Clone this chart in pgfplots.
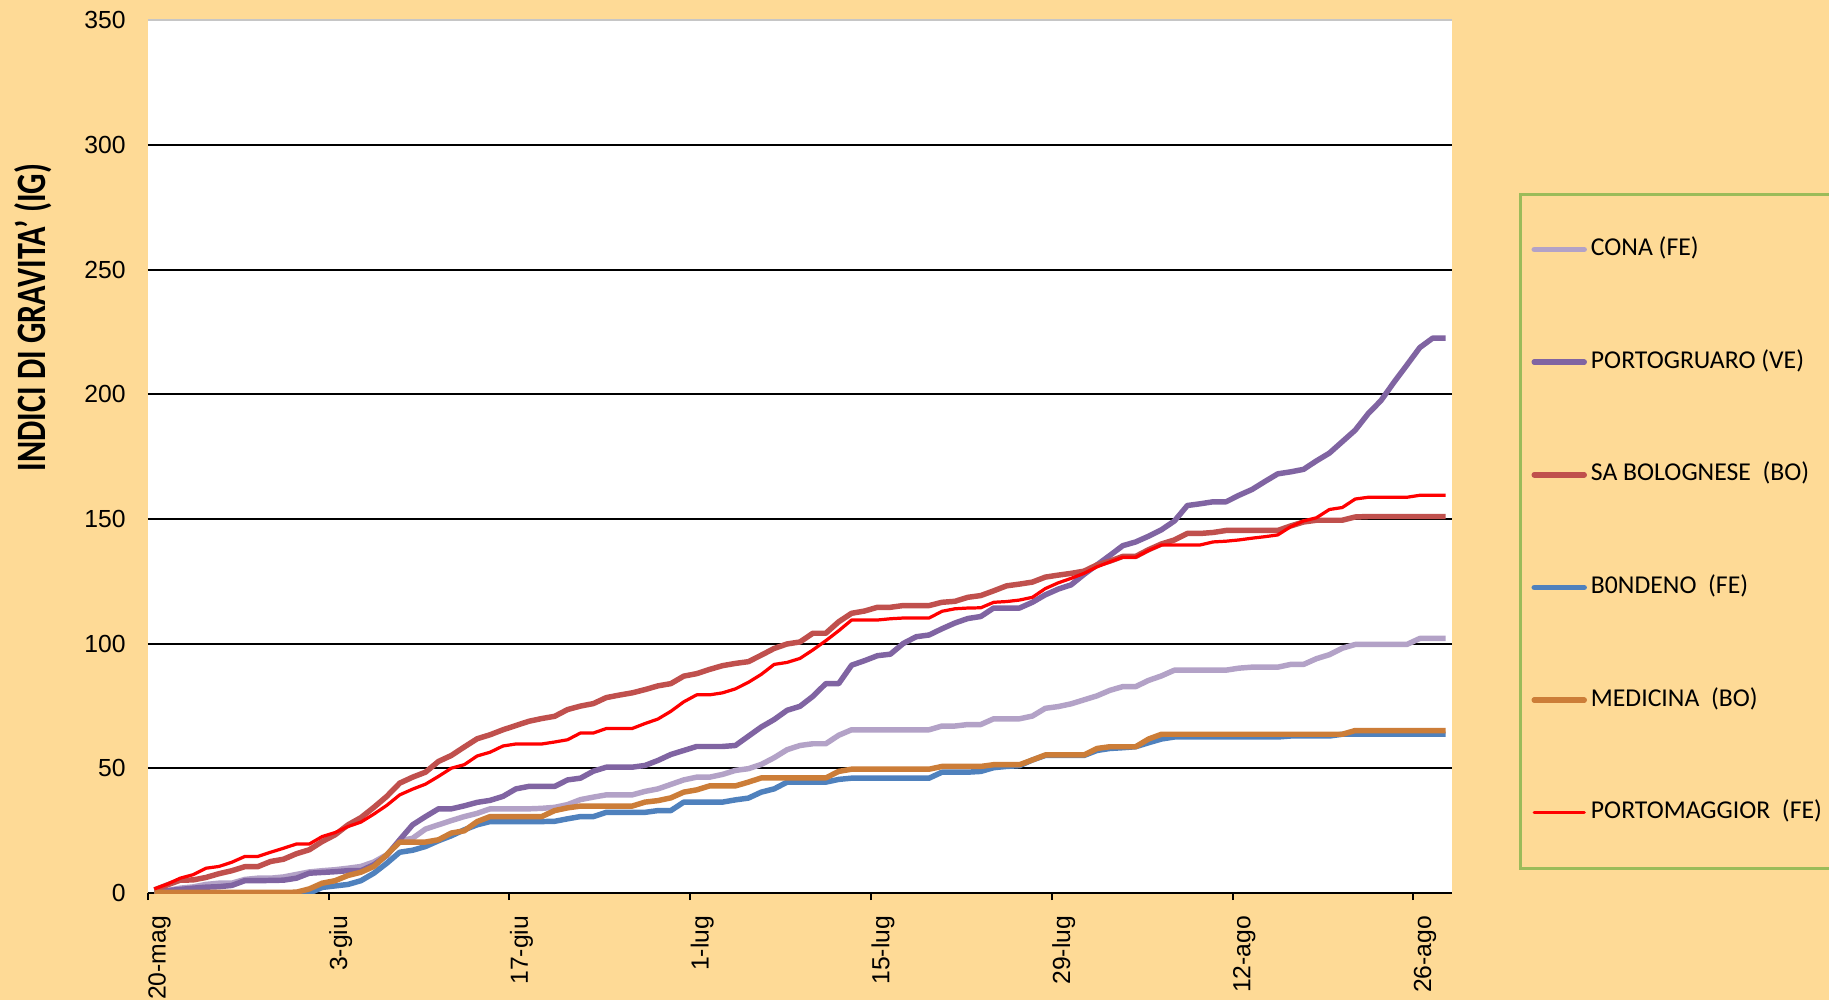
\documentclass[border=0pt]{standalone}
\usepackage{fontspec}
\setmainfont{Liberation Sans}
\newfontfamily\calibri{Carlito}
\usepackage{pgfplots}
\pgfplotsset{compat=1.18}
\usepackage{pgfplotstable}

\definecolor{bgorange}{RGB}{254,218,150}
\definecolor{legendgreen}{RGB}{155,187,89}
\definecolor{cona}{RGB}{179,162,199}
\definecolor{portog}{RGB}{128,100,162}
\definecolor{sabol}{RGB}{192,80,77}
\definecolor{bonden}{RGB}{79,129,189}
\definecolor{medic}{RGB}{204,125,56}
\definecolor{portom}{RGB}{255,0,0}

% giorni dal 20-mag; indici di gravita' cumulati
\pgfplotstableread{
d cona portog sabol bonden medic portom
0 0.5 0.4 1.3 0 0.3 1.7
1 1 1 3.3 0 0.3 3.6
2 2 1.5 5.2 0 0.3 6
3 2.5 2 5.3 0 0.3 7.4
4 3.5 2.4 6.3 0 0.3 10
5 4 2.6 7.8 0 0.3 10.7
6 4 3.1 9 0 0.3 12.4
7 5.5 5 10.6 0 0.3 14.7
8 6 5 10.6 0 0.3 14.7
9 6 5.1 12.7 0 0.3 16.4
10 6.5 5.2 13.6 0 0.3 18
11 7.5 6 15.8 0 0.4 19.7
12 8.5 8 17.4 0 1.7 19.7
13 9 8.3 20.7 2.3 4 22.7
14 9.4 8.6 23.4 2.9 5 24.3
15 10 9 27.4 3.5 7.1 26.7
16 10.7 9 30.3 5 8.4 28.5
17 12.5 11.4 34.4 8 10.7 31.7
18 15.4 15.1 38.8 12 15.4 35.2
19 21 21.4 44.1 16.4 20.5 39.4
20 22 27.4 46.5 17.2 20.5 41.7
21 25.7 30.7 48.5 18.7 20.5 43.7
22 27.4 33.8 52.8 21 21.4 46.8
23 29.1 33.8 55.2 23 24.1 50.1
24 30.7 35 58.6 25.4 25 51.5
25 32 36.4 61.9 27.4 28.7 55
26 33.8 37.2 63.5 28.7 30.7 56.5
27 33.8 38.8 65.5 28.7 30.7 59
28 33.8 41.8 67.2 28.7 30.7 59.8
29 33.8 42.8 68.9 28.7 30.7 59.8
30 34 42.8 70 28.7 30.7 59.8
31 34.4 42.8 70.9 28.8 33.1 60.6
32 35.5 45.4 73.6 29.8 34.2 61.5
33 37.5 46.1 75 30.7 34.9 64.2
34 38.5 48.9 76 30.7 34.9 64.2
35 39.4 50.5 78.4 32.4 34.9 66
36 39.4 50.5 79.4 32.4 34.9 66
37 39.4 50.5 80.3 32.4 34.9 66
38 40.8 51.2 81.6 32.4 36.5 68
39 41.8 53.2 83.1 33.1 37.1 69.8
40 43.6 55.6 84 33.1 38.2 72.9
41 45.4 57.2 87 36.5 40.5 76.7
42 46.5 58.8 88 36.5 41.4 79.5
43 46.5 58.8 89.7 36.5 43 79.5
44 47.6 58.8 91.2 36.5 43 80.3
45 49.2 59.2 92.1 37.4 43 81.9
46 49.9 62.9 92.8 38.1 44.5 84.5
47 51.6 66.6 95.4 40.5 46.2 87.7
48 54.3 69.6 98.1 41.8 46.2 91.7
49 57.5 73.3 99.9 44.5 46.2 92.5
50 59.2 74.9 100.7 44.5 46.2 94.1
51 59.9 78.9 104.2 44.5 46.2 97.5
52 59.9 84 104.2 44.5 46.2 101.2
53 63.3 84 108.8 45.6 48.8 105.2
54 65.5 91.4 112.2 46.1 49.7 109.5
55 65.5 93.2 113.1 46.1 49.7 109.5
56 65.5 95.2 114.6 46.1 49.7 109.5
57 65.5 95.8 114.6 46.1 49.7 110
58 65.5 100.1 115.3 46.1 49.7 110.3
59 65.5 102.8 115.3 46.1 49.7 110.3
60 65.5 103.5 115.3 46.1 49.7 110.3
61 67 106 116.6 48.5 50.8 113
62 67 108.3 117 48.5 50.8 114
63 67.6 110.1 118.6 48.5 50.8 114.3
64 67.6 110.9 119.3 48.8 50.8 114.4
65 69.9 114.3 121.2 50.3 51.5 116.6
66 69.9 114.3 123.2 50.8 51.5 116.9
67 69.9 114.3 123.9 51.1 51.5 117.5
68 71 116.6 124.7 53.4 53.4 118.6
69 74.1 119.6 126.7 55.2 55.4 122.1
70 74.8 121.9 127.5 55.2 55.4 124.4
71 75.9 123.6 128.2 55.2 55.4 126.2
72 77.5 127.8 129.1 55.2 55.4 128.2
73 79.1 131.6 131.6 57.2 58 130.8
74 81.3 135.4 133.1 58 58.7 132.8
75 82.8 139.3 135 58.3 58.7 134.7
76 82.8 140.8 135 58.7 58.7 134.7
77 85.3 143.1 137.7 60.3 61.8 137.4
78 87.1 145.7 140 61.8 63.7 139.6
79 89.4 149.2 141.6 62.6 63.7 139.6
80 89.4 155.4 144.2 62.6 63.7 139.6
81 89.4 156.1 144.2 62.6 63.7 139.6
82 89.4 156.9 144.6 62.6 63.7 140.8
83 89.4 156.9 145.4 62.6 63.7 141.1
84 90.2 159.5 145.4 62.6 63.7 141.6
85 90.6 161.8 145.4 62.6 63.7 142.3
86 90.6 165 145.4 62.6 63.7 142.9
87 90.6 168.1 145.4 62.6 63.7 143.6
88 91.7 168.9 147.2 63 63.7 146.9
89 91.7 169.9 148.8 63 63.7 149.2
90 94 173.3 149.5 63 63.7 150.5
91 95.6 176.4 149.5 63 63.7 153.8
92 98.2 181 149.5 63.7 63.7 154.6
93 99.7 185.6 150.8 63.7 65.2 158
94 99.7 192.2 151 63.7 65.2 158.7
95 99.7 197.5 151 63.7 65.2 158.7
96 99.7 204.8 151 63.7 65.2 158.7
97 99.7 211.7 151 63.7 65.2 158.7
98 102.1 218.7 151 63.7 65.2 159.5
99 102.1 222.5 151 63.7 65.2 159.5
100 102.1 222.5 151 63.7 65.2 159.5
}\datatab

\begin{document}
\begin{tikzpicture}
\fill[bgorange] (-59.6bp,-43.1bp) rectangle (677.4bp,359.9bp);
\begin{axis}[
    width=525.5bp, height=351.8bp, scale only axis,
    xmin=-0.5, xmax=100.5, ymin=0, ymax=350,
    axis background/.style={fill=white},
    axis x line*=bottom, axis y line*=left,
    x axis line style={black, line width=0.8bp, -},
    y axis line style={draw=none},
    xtick={-0.5,13.5,...,97.5},
    xticklabels={20-mag,3-giu,17-giu,1-lug,15-lug,29-lug,12-ago,26-ago},
    ytick={0,50,...,300},
    extra y ticks={350},
    extra y tick style={grid style={gray!45, line width=0.6bp}},
    ymajorgrids,
    grid style={black, line width=0.8bp},
    tick align=outside,
    major tick length=2.8bp,
    xtick style={black, line width=0.8bp},
    ytick style={draw=none},
    /pgf/number format/assume math mode=true,
    ticklabel style={font=\fontsize{10}{12}\selectfont},
    xticklabel style={rotate=90, anchor=north east, inner sep=0pt, xshift=-6.2bp},
    yticklabel style={inner sep=0pt, xshift=-6bp},
    ylabel={INDICI DI GRAVITA’ (IG)},
    ylabel style={at={(axis description cs:-0.0881,0.6592)}, anchor=center,
        font=\calibri\bfseries\fontsize{13}{15}\selectfont, yscale=1.3},
    legend cell align=left,
    legend image code/.code={\draw[#1, line cap=round] (0bp,0bp) -- (20.15bp,0bp);},
    legend style={at={(1.0514,0.8024)}, anchor=north west,
        draw=legendgreen, line width=1.2bp, fill=bgorange,
        inner xsep=4.4bp, inner ysep=17.8bp, row sep=36.4bp,
        font=\calibri\fontsize{10.4}{12}\selectfont,
        nodes={inner xsep=1.6bp, inner ysep=0bp, text height=7bp, text depth=2bp}},
    every axis plot/.append style={line join=round},
]
\addplot[cona, line width=2.2bp] table[x=d, y=cona] {\datatab};
\addlegendentry{CONA (FE)}
\addplot[portog, line width=2.2bp] table[x=d, y=portog] {\datatab};
\addlegendentry{PORTOGRUARO (VE)}
\addplot[sabol, line width=2.2bp] table[x=d, y=sabol] {\datatab};
\addlegendentry{SA BOLOGNESE\ \ (BO)}
\addplot[bonden, line width=2.2bp] table[x=d, y=bonden] {\datatab};
\addlegendentry{B0NDENO\ \ (FE)}
\addplot[medic, line width=2.2bp] table[x=d, y=medic] {\datatab};
\addlegendentry{MEDICINA\ \ (BO)}
\addplot[portom, line width=1.3bp] table[x=d, y=portom] {\datatab};
\addlegendentry{PORTOMAGGIOR\ \ (FE)}
\end{axis}
\pgfresetboundingbox
\path[use as bounding box] (-59.6bp,-43.1bp) rectangle (677.4bp,359.9bp);
\end{tikzpicture}
\end{document}
